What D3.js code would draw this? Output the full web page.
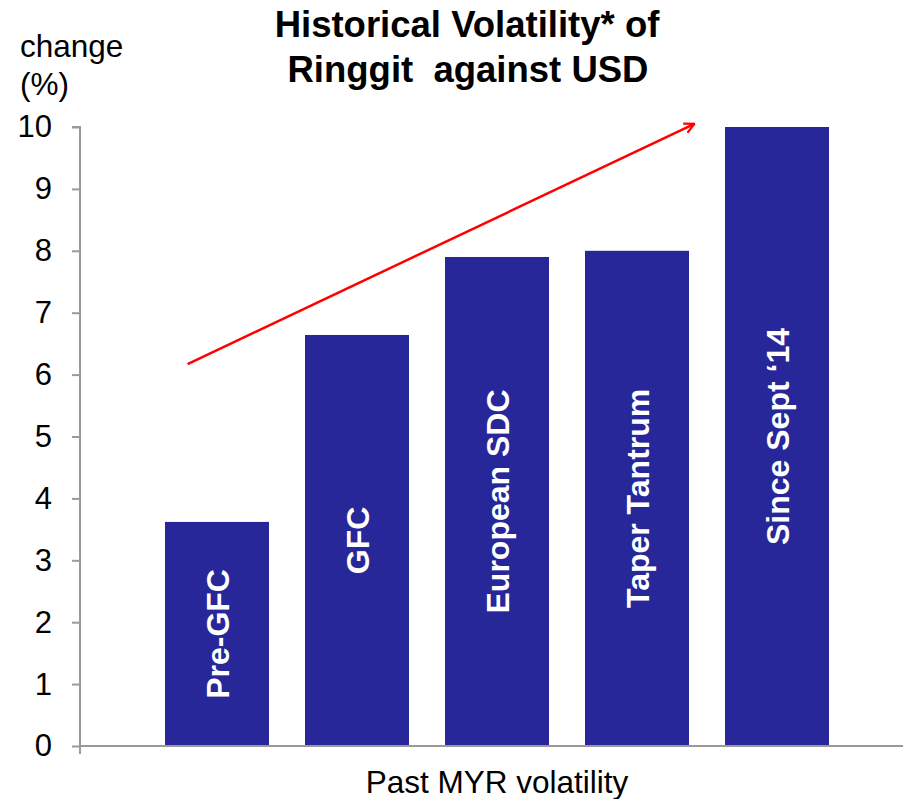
<!DOCTYPE html>
<html>
<head>
<meta charset="utf-8">
<script src="https://cdn.jsdelivr.net/npm/d3@7"></script>
<style>
  html, body { margin: 0; padding: 0; background: #fff; }
  svg { display: block; font-family: "Liberation Sans", Arial, sans-serif; }
</style>
</head>
<body>
<svg id="chart" width="903" height="799"></svg>
<script>
// Volatility episodes and their historical volatility (% change)
const categories = ["Pre-GFC", "GFC", "European SDC", "Taper Tantrum", "Since Sept \u201814"];
const values = [3.62, 6.64, 7.90, 8.00, 10.0];
const yTicks = [0, 1, 2, 3, 4, 5, 6, 7, 8, 9, 10];
// Trend arrow endpoints, in (category index, value) units
const arrowFrom = [-0.21, 6.17];
const arrowTo = [3.41, 10.05];

const svg = d3.select("#chart");
const barColor = "#27279a";
const axisColor = "#9a9a9a";

const y = d3.scaleLinear().domain([0, 10]).range([746, 127]);
const x = d3.scaleBand().domain(categories)
  .range([147, 847]).paddingInner(36 / 140).paddingOuter(18 / 140);
const xIdx = d3.scaleLinear().domain([0, 1])
  .range([x(categories[0]) + x.bandwidth() / 2, x(categories[1]) + x.bandwidth() / 2]);

// Bars
svg.append("g").selectAll("rect").data(categories).join("rect")
  .attr("x", d => x(d))
  .attr("y", (d, i) => y(values[i]))
  .attr("width", x.bandwidth())
  .attr("height", (d, i) => y(0) - y(values[i]))
  .attr("fill", barColor);

// Rotated category labels inside the bars
svg.append("g").selectAll("text").data(categories).join("text")
  .attr("transform", (d, i) => {
    const cx = x(d) + x.bandwidth() / 2;
    const cy = (y(values[i]) + y(0)) / 2;
    return `translate(${cx},${cy}) rotate(-90)`;
  })
  .attr("text-anchor", "middle")
  .attr("dy", "0.36em")
  .attr("fill", "#fff")
  .attr("font-weight", "bold")
  .attr("font-size", 32)
  .text(d => d);

// Y axis
const yAxis = d3.axisLeft(y).tickValues(yTicks).tickSize(8).tickPadding(20).tickFormat(d3.format("d"));
const gy = svg.append("g").attr("transform", "translate(80,0)").call(yAxis);
gy.select(".domain").attr("stroke", axisColor).attr("stroke-width", 2)
  .attr("d", `M-8,${y(10)}H0V${y(0) + 8}`);
gy.selectAll(".tick line").attr("stroke", axisColor).attr("stroke-width", 2);
gy.selectAll(".tick text").attr("fill", "#000").attr("font-size", 31)
  .attr("font-family", "'Liberation Sans', Arial, sans-serif");

// Baseline
svg.append("line")
  .attr("x1", 80).attr("x2", 903)
  .attr("y1", y(0)).attr("y2", y(0))
  .attr("stroke", axisColor).attr("stroke-width", 2);

// Trend arrow
svg.append("defs").append("marker")
  .attr("id", "arrowhead")
  .attr("viewBox", "0 0 12 12")
  .attr("refX", 11).attr("refY", 6)
  .attr("markerWidth", 12).attr("markerHeight", 12)
  .attr("markerUnits", "userSpaceOnUse")
  .attr("orient", "auto")
  .append("path")
  .attr("d", "M1,1 L11,6 L1,11")
  .attr("fill", "none").attr("stroke", "#ff0000").attr("stroke-width", 2.2);

svg.append("line")
  .attr("x1", xIdx(arrowFrom[0])).attr("y1", y(arrowFrom[1]))
  .attr("x2", xIdx(arrowTo[0])).attr("y2", y(arrowTo[1]))
  .attr("stroke", "#ff0000").attr("stroke-width", 2.5)
  .attr("marker-end", "url(#arrowhead)");

// Title
const title = svg.append("text")
  .attr("text-anchor", "middle")
  .attr("font-weight", "bold")
  .attr("font-size", 36.5);
title.append("tspan").attr("x", 467).attr("y", 37).text("Historical Volatility* of");
title.append("tspan").attr("x", 468).attr("y", 82).text("Ringgit\u00a0 against USD");

// Y axis unit label
const yl = svg.append("text").attr("font-size", 31.5).attr("fill", "#000");
yl.append("tspan").attr("x", 20).attr("y", 57).text("change");
yl.append("tspan").attr("x", 20).attr("y", 95).text("(%)");

// X axis label
svg.append("text")
  .attr("x", 497).attr("y", 793)
  .attr("text-anchor", "middle")
  .attr("font-size", 31.5)
  .text("Past MYR volatility");
</script>
</body>
</html>
